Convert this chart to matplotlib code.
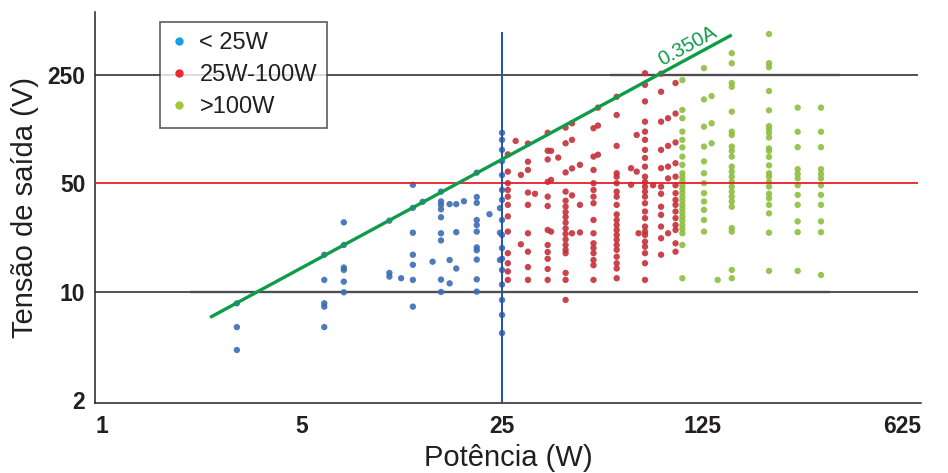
import matplotlib

matplotlib.use("Agg")
import matplotlib.pyplot as plt
from matplotlib.lines import Line2D

# Power columns (W) and the output voltages (V) read in each column
blue_power = [2.96, 5.98, 7.0, 10.1, 11.1, 12.2, 13.2, 14.3, 15.3, 16.4,
              17.3, 18.4, 20.4, 22.6, 24.6, 25.0]
blue_volts = [
    [8.4, 5.9, 4.2],
    [17.3, 11.9, 8.4, 8.0, 5.9],
    [28.0, 20.0, 14.3, 13.8, 11.6, 9.9],
    [28.7, 13.2, 12.5],
    [12.2],
    [48.9, 34.7, 24.0, 17.3, 14.9, 11.9, 8.0],
    [38.0],
    [15.6],
    [44.2, 38.2, 36.3, 34.0, 30.2, 23.8, 21.4, 11.95, 9.95],
    [36.7, 16.0, 11.3],
    [36.7, 24.2, 14.1],
    [38.3],
    [58.6, 40.8, 37.4, 29.0, 26.9, 24.4, 19.3, 18.5, 16.1, 12.0, 10.0],
    [31.6],
    [34.6, 24.0, 16.0],
    [106, 95.4, 82.2, 69.6, 56.5, 45.3, 39.1, 29.0, 23.2, 19.1, 16.3,
     13.8, 11.1, 8.84, 7.07, 5.4],
]

red_power = [26.2, 27.9, 29.1, 30.8, 32.6, 36.1, 37.1, 39.3, 41.7, 43.9,
             46.8, 52.2, 54.1, 62.9, 70.6, 73.9, 75.0, 79.0, 84.3, 89.9,
             95.1, 101.0]
red_volts = [
    [76.9, 59.5, 50.1, 45.3, 41.0, 36.3, 30.6, 24.4, 17.7, 15.25, 13.5, 11.9],
    [93.9],
    [56.7, 20.2],
    [90.4, 69.0, 61.0, 43.6, 36.3, 23.8, 18.1, 14.4, 11.9],
    [42.8],
    [106, 81.2, 71.3, 51.1, 41.0, 35.7, 25.0, 20.0, 18.0, 16.3, 14.0, 11.9],
    [81.0, 52.6, 24.4],
    [73.3],
    [114.5, 90.7, 58.8, 44.2, 38.6, 35.4, 32.6, 30.3, 27.9, 25.6, 23.6,
     21.7, 20.0, 18.6, 17.7, 13.2, 11.9, 8.84],
    [122, 95.4, 62.4, 41.8, 23.8],
    [65.8, 36.3, 24.1],
    [113.4, 74.4, 61.0, 50.1, 45.3, 41.0, 37.2, 29.0, 23.8, 20.5, 19.1,
     17.7, 16.0, 14.8, 11.9],
    [154, 118, 76.5],
    [181, 138, 87.2, 58.1, 55.2, 50.1, 44.2, 41.0, 36.3, 31.5, 29.0, 26.9,
     25.0, 23.2, 21.6, 20.0, 18.6, 16.8, 15.25, 14.1, 12.2],
    [48.9, 62.6],
    [102.6, 59.5],
    [23.8],
    [257, 216, 169, 125, 107.8, 95.4, 82.2, 73.0, 64.1, 55.2, 51.0, 47.6,
     44.2, 41.0, 37.2, 32.9, 29.8, 26.3, 24.4, 23.2, 21.0, 19.5, 17.7,
     15.25, 11.9],
    [48.6],
    [255, 195, 125, 82.2, 62.6, 47.6, 42.8, 35.3, 31.3, 26.3, 22.1, 17.3],
    [131.6, 87.2, 64.1, 53.8, 23.8],
    [222, 141, 91.8, 67.4, 55.2, 48.6, 43.2, 39.1, 36.3, 32.9, 29.8, 26.9,
     25.0, 20.5, 18.1],
]

green_power = [106.7, 127.0, 135.0, 141.8, 158.8, 214.3, 269.9, 325.6]
green_volts = [
    [232, 148.8, 131.6, 107.8, 95.4, 85.3, 74.4, 65.8, 58.1, 54.9, 51.8,
     48.6, 46.0, 43.4, 40.9, 38.6, 36.3, 34.3, 32.4, 30.5, 28.8, 26.9,
     25.4, 23.8, 20.0, 12.2],
    [277, 174, 116, 86.3, 69.3, 58.1, 50.1, 43.2, 38.2, 33.7, 29.0, 24.4],
    [183, 122, 90.7],
    [11.9],
    [346, 298, 222, 210, 145, 107.8, 102.6, 86.3, 81.0, 74.4, 64.1, 59.5,
     55.2, 51.0, 47.6, 44.2, 41.0, 38.2, 35.3, 25.7, 24.4, 13.8, 12.2],
    [460, 298, 281, 197, 148, 117, 112, 106, 98.8, 84.0, 81.0, 74.1, 65.3,
     58.1, 55.2, 51.0, 47.6, 42.8, 40.0, 36.3, 32.0, 24.0, 13.6],
    [154, 107.6, 85.6, 61.7, 57.5, 53.8, 48.6, 42.1, 36.3, 28.4, 24.2, 13.6],
    [154, 107.6, 85.6, 61.7, 57.5, 53.8, 48.6, 42.1, 36.3, 28.4, 24.2, 12.8],
]

x_ticks = [1, 5, 25, 125, 625]
y_ticks = [2, 10, 50, 250]
current_line = 0.350          # A, constant-current line V = P / I
current_line_power = [2.385, 158.8]
legend_labels = ["< 25W", "25W-100W", ">100W"]

TEXT = "#231f20"
plt.rcParams["font.family"] = ["Liberation Sans", "DejaVu Sans"]

fig = plt.figure(figsize=(9.48, 4.73), dpi=100)
ax = fig.add_axes([0.1002, 0.148, 0.8713, 0.8266])
ax.set_xscale("log")
ax.set_yscale("log")
ax.set_xlim(0.945, 728)
ax.set_ylim(1.91, 638)


def flatten(powers, volts):
    xs, ys = [], []
    for p, vs in zip(powers, volts):
        xs += [p] * len(vs)
        ys += vs
    return xs, ys


# reference lines (faint grey shading behind the 10 V and 250 V lines)
ax.hlines(10, 2.03, 350, color="#e2e2e2", lw=3.0, zorder=1)
ax.hlines(250, 59.6, 380, color="#e2e2e2", lw=3.0, zorder=1)
ax.hlines([10, 250], 0.945, 711, color="#222222", lw=1.1, zorder=2)
ax.hlines(50, 0.945, 711, color="#e5202a", lw=1.3, zorder=4)
ax.vlines(25, 1.91, 474, color="#2352a8", lw=1.4, zorder=4)

for powers, volts, col in [(blue_power, blue_volts, "#3b6db4"),
                           (red_power, red_volts, "#c5303a"),
                           (green_power, green_volts, "#8dbf3e")]:
    xs, ys = flatten(powers, volts)
    ax.scatter(xs, ys, s=21, color=col, edgecolors="none", alpha=0.9, zorder=3)

cl_v = [p / current_line for p in current_line_power]
ax.plot(current_line_power, cl_v, color="#0e9c48", lw=2.4, zorder=5,
        solid_capstyle="butt")
ax.text(111.7, 385, f"{current_line:.3f}A", color="#0e9c48", fontsize=14.5,
        rotation=28.4, rotation_mode="anchor", ha="center", va="center",
        zorder=6)

ax.spines["top"].set_visible(False)
ax.spines["right"].set_visible(False)
ax.spines["left"].set_color("#222222")
ax.spines["bottom"].set_color("#222222")
ax.spines["left"].set_linewidth(1.1)
ax.spines["bottom"].set_linewidth(1.1)

ax.set_xticks(x_ticks)
ax.set_xticklabels([str(t) for t in x_ticks])
ax.set_yticks(y_ticks)
ax.set_yticklabels([str(t) for t in y_ticks])
ax.minorticks_off()
ax.tick_params(length=0, labelsize=16.5, colors=TEXT)
ax.tick_params(axis="x", pad=9)
ax.tick_params(axis="y", pad=7)
for lab in ax.get_xticklabels() + ax.get_yticklabels():
    lab.set_fontweight("bold")

ax.set_xlabel("Potência (W)", fontsize=21, color=TEXT, labelpad=4)
ax.set_ylabel("Tensão de saída (V)", fontsize=21, color=TEXT, labelpad=6)

handles = [Line2D([], [], ls="none", marker="o", markersize=6,
                  markerfacecolor=c, markeredgecolor="none")
           for c in ["#1a9fe6", "#ec2a30", "#a4c63a"]]
leg = ax.legend(handles, legend_labels, loc="upper left",
                bbox_to_anchor=(0.0787, 0.974), borderaxespad=0,
                fontsize=17, frameon=True, fancybox=False,
                handlelength=0.8, handletextpad=0.45, labelspacing=0.42,
                borderpad=0.42)
leg.get_frame().set_edgecolor("#333333")
leg.get_frame().set_linewidth(1.2)
for t in leg.get_texts():
    t.set_color(TEXT)

plt.savefig("out.png", dpi=100, facecolor="white")
plt.close(fig)
